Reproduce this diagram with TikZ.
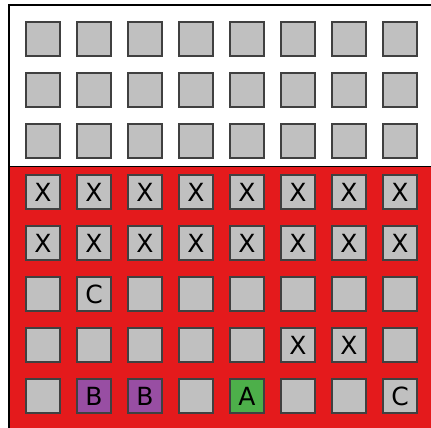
\documentclass[tikz,border=0pt]{standalone}
\usepackage{fontspec}
\setsansfont{DejaVu Sans}
\usepackage{tikz}
\usetikzlibrary{positioning}
\definecolor{boardred}{RGB}{228,26,28}
\definecolor{tilegray}{RGB}{192,192,192}
\definecolor{tilepurple}{RGB}{152,78,163}
\definecolor{tilegreen}{RGB}{77,175,74}
\tikzset{
	x=1pt, y=-1pt,
	tile/.style = {draw=black!75, fill=tilegray, line width=1.3pt, minimum size=34pt, inner sep=0pt, font=\sffamily\fontsize{25}{30}\selectfont}, % one square of the board
	tag o/.style = {node contents={}},
	tag X/.style = {node contents=X},
	tag C/.style = {node contents=C},
	tag B/.style = {fill=tilepurple, node contents=B},
	tag A/.style = {fill=tilegreen, node contents=A}
}
\begin{document}
\begin{tikzpicture}
\useasboundingbox (0,0) rectangle (431,428);
\fill[white] (0,0) rectangle (431,428);
\draw[fill=boardred, line width=1pt] (9,166.5) rectangle (434,430);
\draw[line width=2pt] (9,5) rectangle (434,430);
% rows of the board, top to bottom
\foreach \row [count=\r] in {
	{o,o,o,o,o,o,o,o},
	{o,o,o,o,o,o,o,o},
	{o,o,o,o,o,o,o,o},
	{X,X,X,X,X,X,X,X},
	{X,X,X,X,X,X,X,X},
	{o,C,o,o,o,o,o,o},
	{o,o,o,o,o,X,X,o},
	{o,B,B,o,A,o,o,C}}
	\foreach \t [count=\c] in \row
		\node (sq-\r-\c) at ({43+51*(\c-1)},{39+51*(\r-1)}) [tile, tag \t];
\end{tikzpicture}
\end{document}
